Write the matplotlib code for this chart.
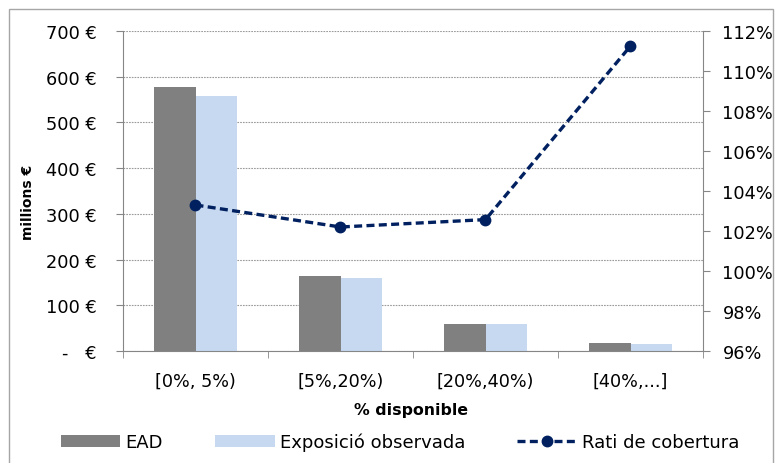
import numpy as np
import matplotlib
matplotlib.use('Agg')
import matplotlib.pyplot as plt
from matplotlib.patches import Rectangle
from matplotlib.ticker import FuncFormatter


plt.rcParams['font.family'] = ['DejaVu Sans']

#Data
categories = ['[0%, 5%)', '[5%,20%)', '[20%,40%)', '[40%,...]']
ead = [577, 163, 60, 17]
exposicio = [557, 160, 60, 16]
rati = [103.3, 102.2, 102.57, 111.25]

left_ticks = [0, 100, 200, 300, 400, 500, 600, 700]
right_ticks = [96, 98, 100, 102, 104, 106, 108, 110, 112]

grey = '#868686'
c_ead = '#808080'
c_exp = '#c6d9f1'
c_line = '#002060'

#Plotting set up
fig = plt.figure(figsize=(7.78, 4.64), dpi=100)
ax1 = fig.add_axes([123/778, 1-352/464, 580/778, 320/464])
ax2 = ax1.twinx()

x = np.arange(len(categories))
w = 0.283
b1 = ax1.bar(x - w/2, ead, width=w, color=c_ead, label='EAD')
b2 = ax1.bar(x + w/2, exposicio, width=w, color=c_exp, label='Exposició observada')

l1, = ax2.plot(x, np.array(rati)/100, color=c_line, lw=2.4, ls=(0, (2.4, 1.3)),
               marker='o', ms=7.5, label='Rati de cobertura')

#AX1
ax1.set_xlim(-0.5, 3.5)
ax1.set_ylim(0, 700)
ax1.set_yticks(left_ticks)
ax1.set_yticklabels(['-   €' if v == 0 else '%d €' % v for v in left_ticks])
ax1.set_axisbelow(True)
ax1.yaxis.grid(True, linestyle=(0, (1.5, 1)), color='#9a9a9a', lw=0.8)
ax1.tick_params(axis='y', direction='out', length=5, color=grey, labelsize=12.8, pad=14)

ax1.set_xticks(x)
ax1.set_xticklabels(categories)
ax1.set_xticks([-0.5, 0.5, 1.5, 2.5, 3.5], minor=True)
ax1.tick_params(axis='x', which='major', length=0, labelsize=12.7, pad=15)
ax1.tick_params(axis='x', which='minor', direction='out', length=5, color=grey)

for s in ['top', 'right']:
    ax1.spines[s].set_visible(False)
for s in ['left', 'bottom']:
    ax1.spines[s].set_color(grey)

#AX2
ax2.set_ylim(0.96, 1.12)
ax2.set_yticks([v/100 for v in right_ticks])
ax2.yaxis.set_major_formatter(FuncFormatter(lambda v, p: '%d%%' % round(v*100)))
ax2.tick_params(axis='y', direction='out', length=5, color=grey, labelsize=12.8, pad=9)
for s in ['top', 'left', 'bottom']:
    ax2.spines[s].set_visible(False)
ax2.spines['right'].set_color(grey)

#Labels
fig.text(28/778, 1-202/464, 'millions €', rotation=90, ha='center', va='center',
         fontsize=10, fontweight='bold')
fig.text(411.5/778, 1-411/464, '% disponible', ha='center', va='center',
         fontsize=11.3, fontweight='bold')

fig.legend(handles=[b1, b2, l1], loc='center', bbox_to_anchor=(400/778, 1-443/464),
           ncol=3, frameon=False, fontsize=13, handlelength=3.3, handletextpad=0.28,
           columnspacing=2.9)

#Outer frame
fig.patches.append(Rectangle((9/778, -0.02), 764/778, 1-10/464+0.02,
                             transform=fig.transFigure, fill=False, ec='#a6a6a6', lw=1))

plt.savefig('out.png', dpi=100)
